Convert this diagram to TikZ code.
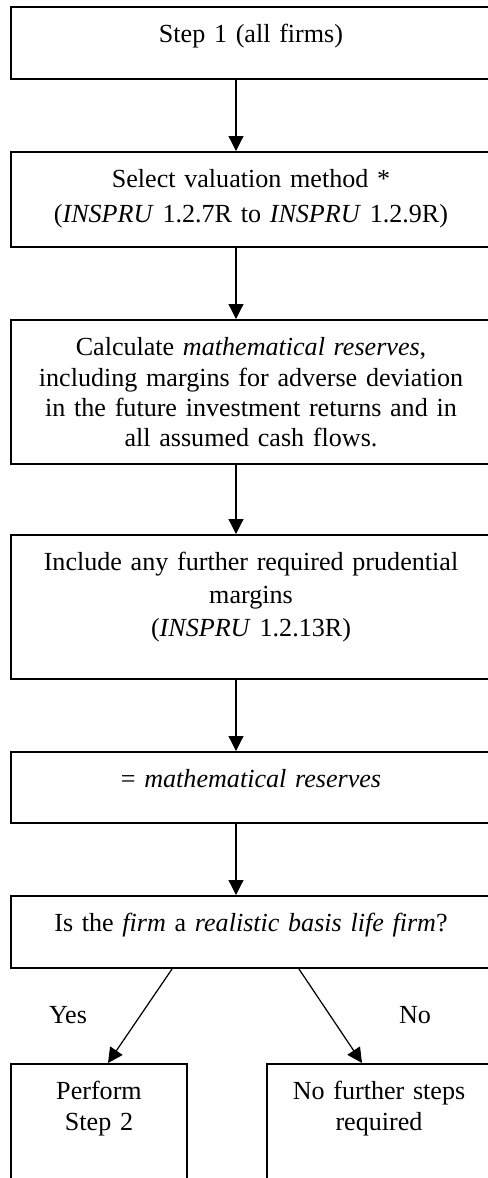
\documentclass[tikz,border=0pt]{standalone}
\usepackage{fontspec}
\setmainfont{Liberation Serif}
\usetikzlibrary{arrows.meta}

\tikzset{
    stepbox/.style={draw, line width=0.9pt, rectangle, anchor=north,
        inner xsep=0pt, inner ysep=0pt, align=center,
        text height=16.1pt, text depth=#1},
    flowarrow/.style={-{Triangle[width=6.7pt,length=6.7pt]}, line width=0.55pt}
}

\begin{document}
\begin{tikzpicture}[x=0.4484pt, y=-0.4484pt, font=\fontsize{11.7}{13.5}\selectfont]
    \useasboundingbox (0,0) rectangle (488,1178);
    \clip (0,0) rectangle (488,1178);

    % Main column of steps
    \node[stepbox=16.2pt, text width=215pt] (step1) at (251,6) {Step 1 (all firms)};
    \node[stepbox=26.5pt, text width=215pt] (select) at (251,151)
        {Select valuation method *\\[2.2pt]
         (\textit{INSPRU} 1.2.7R to \textit{INSPRU} 1.2.9R)};
    \node[stepbox=48.4pt, text width=215pt] (calc) at (251,319)
        {Calculate \textit{mathematical reserves},\\
         including margins for adverse deviation\\
         in the future investment returns and in\\
         all assumed cash flows.};
    \node[stepbox=48.4pt, text width=215pt] (margins) at (251,534)
        {Include any further required prudential\\[1.1pt]
         margins\\[1.1pt]
         (\textit{INSPRU} 1.2.13R)};
    \node[stepbox=15.7pt, text width=215pt] (reserves) at (251,751)
        {= \textit{mathematical reserves}};
    \node[stepbox=16.2pt, text width=215pt] (question) at (251,895)
        {Is the \textit{firm} a \textit{realistic basis life firm}?};

    % Outcomes
    \node[stepbox=45.3pt, text width=78.9pt] (stepb) at (99,1063) {Perform\\Step 2};
    \node[stepbox=45.3pt, text width=100.4pt] (nosteps) at (379,1063) {No further steps\\required};

    % Arrows down the column
    \draw[flowarrow] ([shift={(-15,0)}]step1.south) -- ([shift={(-15,0)}]select.north);
    \draw[flowarrow] ([shift={(-15,0)}]select.south) -- ([shift={(-15,0)}]calc.north);
    \draw[flowarrow] ([shift={(-15,0)}]calc.south) -- ([shift={(-15,0)}]margins.north);
    \draw[flowarrow] ([shift={(-15,0)}]margins.south) -- ([shift={(-15,0)}]reserves.north);
    \draw[flowarrow] ([shift={(-15,0)}]reserves.south) -- ([shift={(-15,0)}]question.north);

    % Yes / No branches
    \draw[flowarrow] ([shift={(-79,0)}]question.south) -- ([shift={(9,0)}]stepb.north);
    \draw[flowarrow] ([shift={(48,0)}]question.south) -- ([shift={(-17,0)}]nosteps.north);
    \node (yes) at (68,1015) {Yes};
    \node (no) at (415,1015) {No};
\end{tikzpicture}
\end{document}
